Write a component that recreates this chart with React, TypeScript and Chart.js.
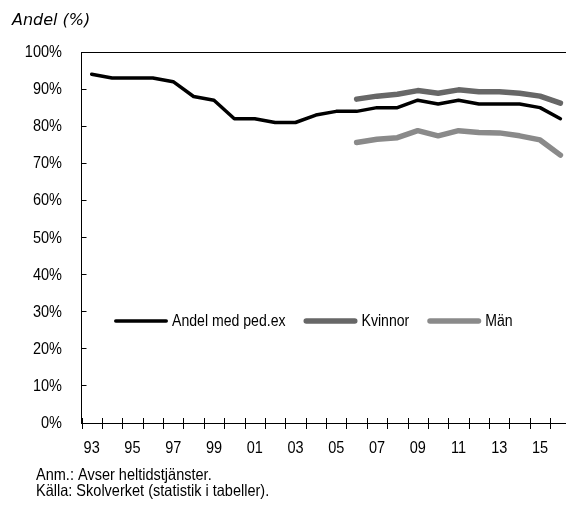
import React, { useEffect, useRef } from 'react';
import { Chart, registerables } from 'chart.js';

Chart.register(...registerables);

const years = ['93','94','95','96','97','98','99','00','01','02','03','04','05','06','07','08','09','10','11','12','13','14','15','16'];
const andelMedPedEx = [94,93,93,93,92,88,87,82,82,81,81,83,84,84,85,85,87,86,87,86,86,86,85,82];
const kvinnor = [null,null,null,null,null,null,null,null,null,null,null,null,null,87.3,88.1,88.6,89.6,88.9,89.8,89.3,89.3,88.9,88.1,86.2];
const man = [null,null,null,null,null,null,null,null,null,null,null,null,null,75.6,76.5,76.9,78.8,77.4,78.8,78.3,78.2,77.4,76.3,72.2];
const seriesLabels = ['Andel med ped.ex', 'Kvinnor', 'Män'];
const yTitle = 'Andel (%)';
const notes = ['Anm.: Avser heltidstjänster.', 'Källa: Skolverket (statistik i tabeller).'];

const SANS = "'Liberation Sans', Arial, sans-serif";
const SX = 0.88; // horizontal compression to mimic a condensed face

function narrowText(ctx: CanvasRenderingContext2D, text: string, x: number, y: number, align: CanvasTextAlign, baseline: CanvasTextBaseline) {
  ctx.save();
  ctx.translate(x, y);
  ctx.scale(SX, 1);
  ctx.textAlign = align;
  ctx.textBaseline = baseline;
  ctx.fillText(text, 0, 0);
  ctx.restore();
}

const decorPlugin = {
  id: 'decor',
  afterDraw(chart: any) {
    const ctx: CanvasRenderingContext2D = chart.ctx;
    const area = chart.chartArea;
    const xs = chart.scales.x;
    const ys = chart.scales.y;
    ctx.save();
    // x tick marks crossing the axis
    ctx.strokeStyle = '#000';
    ctx.lineWidth = 1;
    ctx.beginPath();
    for (let i = 0; i <= years.length; i++) {
      const x = Math.round(xs.getPixelForValue(i - 0.5)) + 0.5;
      ctx.moveTo(x, area.bottom - 5);
      ctx.lineTo(x, area.bottom + 6);
    }
    ctx.stroke();

    ctx.fillStyle = '#000';
    ctx.font = `16.5px ${SANS}`;
    // y tick labels
    ys.ticks.forEach((t: any) => {
      narrowText(ctx, String(t.label), 62, ys.getPixelForValue(t.value) + 0.5, 'right', 'middle');
    });
    // x tick labels
    xs.ticks.forEach((t: any, i: number) => {
      if (t.label) narrowText(ctx, String(t.label), xs.getPixelForTick(i), 448, 'center', 'middle');
    });

    // legend inside plot
    ctx.font = `16px ${SANS}`;
    let x = 114;
    const y = 321;
    chart.data.datasets.forEach((ds: any) => {
      ctx.strokeStyle = ds.borderColor;
      ctx.lineWidth = ds.borderWidth;
      ctx.lineCap = 'round';
      ctx.beginPath();
      ctx.moveTo(x + ds.borderWidth / 2, y);
      ctx.lineTo(x + 54 - ds.borderWidth / 2, y);
      ctx.stroke();
      ctx.fillStyle = '#000';
      narrowText(ctx, ds.label, x + 58, y + 1, 'left', 'middle');
      x += 58 + ctx.measureText(ds.label).width * SX + 18;
    });

    // title
    ctx.fillStyle = '#000';
    ctx.font = "italic 16px 'DejaVu Sans', sans-serif";
    ctx.textAlign = 'left';
    ctx.textBaseline = 'alphabetic';
    ctx.fillText(yTitle, 12, 25);

    // notes
    ctx.font = `16.5px ${SANS}`;
    narrowText(ctx, notes[0], 36, 480, 'left', 'alphabetic');
    narrowText(ctx, notes[1], 36, 496, 'left', 'alphabetic');
    ctx.restore();
  },
};

export default function App() {
  const ref = useRef<HTMLCanvasElement>(null);
  useEffect(() => {
    const chart = new Chart(ref.current as HTMLCanvasElement, {
      type: 'line',
      data: {
        labels: years,
        datasets: [
          { label: seriesLabels[0], data: andelMedPedEx, borderColor: '#000000', borderWidth: 3.5, pointRadius: 0, tension: 0, borderCapStyle: 'round', borderJoinStyle: 'round', fill: false },
          { label: seriesLabels[1], data: kvinnor, borderColor: '#676767', borderWidth: 5.5, pointRadius: 0, tension: 0, borderCapStyle: 'round', borderJoinStyle: 'round', fill: false },
          { label: seriesLabels[2], data: man, borderColor: '#8a8a8a', borderWidth: 5.5, pointRadius: 0, tension: 0, borderCapStyle: 'round', borderJoinStyle: 'round', fill: false },
        ] as any,
      },
      options: {
        responsive: false,
        animation: false,
        devicePixelRatio: 1,
        layout: { padding: { top: 52, right: 29.4, left: 0, bottom: 0 } },
        plugins: { legend: { display: false }, tooltip: { enabled: false }, title: { display: false } },
        scales: {
          x: {
            type: 'category',
            offset: true,
            grid: { display: true, offset: true, drawOnChartArea: false, drawTicks: false, color: 'transparent' },
            border: { display: true, color: '#000', width: 1 },
            ticks: {
              autoSkip: false,
              maxRotation: 0,
              minRotation: 0,
              padding: 14,
              color: 'rgba(0,0,0,0)',
              font: { family: SANS, size: 16 },
              callback: (_v: any, i: number) => (i % 2 === 0 ? years[i] : ''),
            },
            afterFit: (s: any) => { s.height = 82; },
          },
          y: {
            min: 0,
            max: 100,
            grid: {
              drawOnChartArea: true,
              drawTicks: true,
              tickLength: -5,
              color: (c: any) => (c.tick && c.tick.value === 100 ? '#000' : 'transparent'),
              tickColor: '#000',
              lineWidth: 1,
            },
            border: { display: true, color: '#000', width: 1 },
            ticks: {
              stepSize: 10,
              padding: 24.5,
              color: 'rgba(0,0,0,0)',
              font: { family: SANS, size: 16 },
              callback: (v: any) => `${v}%`,
            },
            afterFit: (s: any) => { s.width = 81.5; },
          },
        },
      } as any,
      plugins: [decorPlugin],
    });
    return () => chart.destroy();
  }, []);
  return (
    <div style={{ position: 'fixed', left: 0, top: 0, width: 566, height: 505, overflow: 'hidden', background: '#fff' }}>
      <canvas ref={ref} width={600} height={505} style={{ width: 600, height: 505, display: 'block' }} />
    </div>
  );
}
